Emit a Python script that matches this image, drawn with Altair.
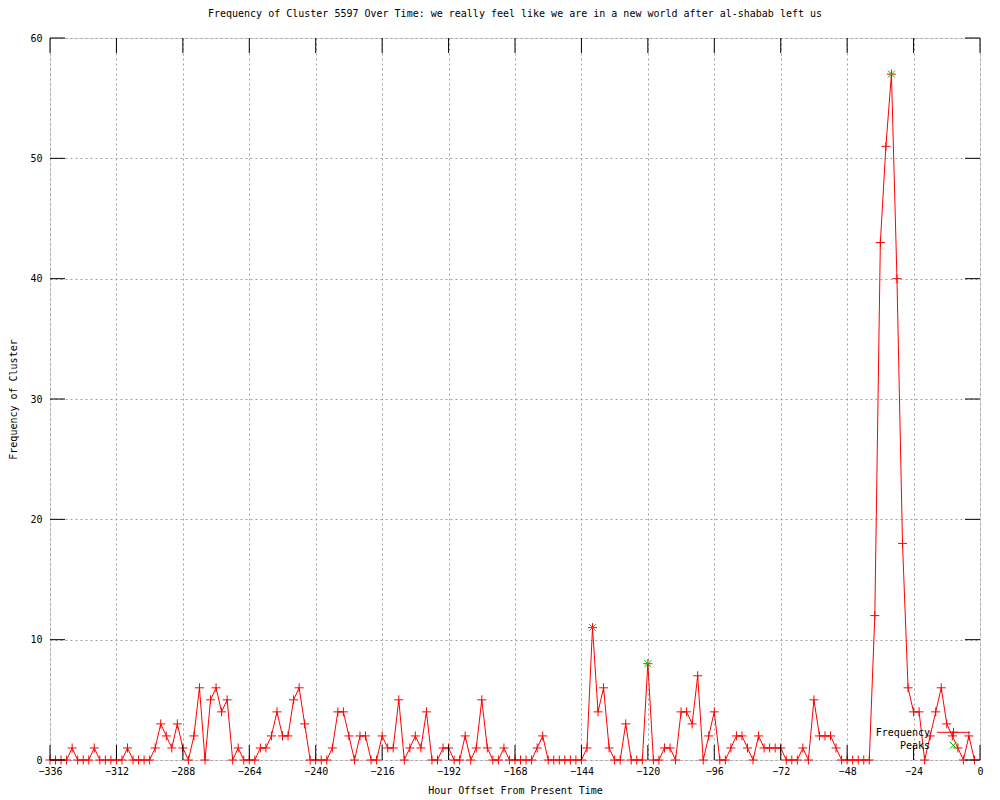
import altair as alt
import pandas as pd

# ---------------- data ----------------
hours = list(range(-336, 0, 2))
freq = [
    0, 0, 0, 0, 1, 0, 0, 0, 1, 0,      # -336 .. -318
    0, 0, 0, 0, 1, 0, 0, 0, 0, 1,      # -316 .. -298
    3, 2, 1, 3, 1, 0, 2, 6, 0, 5,      # -296 .. -278
    6, 4, 5, 0, 1, 0, 0, 0, 1, 1,      # -276 .. -258
    2, 4, 2, 2, 5, 6, 3, 0, 0, 0,      # -256 .. -238
    0, 1, 4, 4, 2, 0, 2, 2, 0, 0,      # -236 .. -218
    2, 1, 1, 5, 0, 1, 2, 1, 4, 0,      # -216 .. -198
    0, 1, 1, 0, 0, 2, 0, 1, 5, 1,      # -196 .. -178
    0, 0, 1, 0, 0, 0, 0, 0, 1, 2,      # -176 .. -158
    0, 0, 0, 0, 0, 0, 0, 1, 11, 4,     # -156 .. -138
    6, 1, 0, 0, 3, 0, 0, 0, 8, 0,      # -136 .. -118
    0, 1, 1, 0, 4, 4, 3, 7, 0, 2,      # -116 .. -98
    4, 0, 0, 1, 2, 2, 1, 0, 2, 1,      # -96 .. -78
    1, 1, 1, 0, 0, 0, 1, 0, 5, 2,      # -76 .. -58
    2, 2, 1, 0, 0, 0, 0, 0, 0, 12,     # -56 .. -38
    43, 51, 57, 40, 18, 6, 4, 4, 0, 2, # -36 .. -18
    4, 6, 3, 2, 1, 0, 2, 0,            # -16 .. -2
]
peak_hours = [-140, -120, -32]
peak_values = [11, 8, 57]
x_ticks = list(range(-336, 1, 24))
y_ticks = list(range(0, 61, 10))

title_text = "Frequency of Cluster 5597 Over Time: we really feel like we are in a new world after al-shabab left us"
x_title = "Hour Offset From Present Time"
y_title = "Frequency of Cluster"
legend_labels = ["Frequency", "Peaks"]

# ---------------- styling ----------------
W, H = 930, 722
FONT = "DejaVu Sans Mono"
FS = 10
RED = "#ff0000"
GREEN = "#00c000"
PLUS = "M-1,0L1,0M0,-1L0,1"
XSHAPE = "M-1,-1L1,1M-1,1L1,-1"
TICK = 15

df = pd.DataFrame({"hour": hours, "freq": freq})
peaks = pd.DataFrame({"hour": peak_hours, "freq": peak_values})
xt = pd.DataFrame({"hour": x_ticks})
yt = pd.DataFrame({"freq": y_ticks})
leg = pd.DataFrame({"label": legend_labels})

xscale = alt.Scale(domain=[-336, 0], nice=False, zero=False)
yscale = alt.Scale(domain=[0, 60], nice=False, zero=False)

xaxis = alt.Axis(
    values=x_ticks, title=x_title, grid=True, gridDash=[2, 3], gridColor="#a0a0a0",
    gridOpacity=1, ticks=False, tickSize=0, domain=False, labelFont=FONT,
    labelFontSize=FS, labelColor="black", labelPadding=6, labelFlush=False,
    labelOverlap=False, titleFont=FONT, titleFontSize=FS, titleFontWeight="normal",
    titleColor="black", titlePadding=9,
)
yaxis = alt.Axis(
    values=y_ticks, title=y_title, grid=True, gridDash=[2, 3], gridColor="#a0a0a0",
    gridOpacity=1, ticks=False, tickSize=0, domain=False, labelFont=FONT,
    labelFontSize=FS, labelColor="black", labelPadding=8, labelFlush=False,
    titleFont=FONT, titleFontSize=FS, titleFontWeight="normal", titleColor="black",
    titlePadding=11,
)

X = alt.X("hour:Q", scale=xscale, axis=xaxis)
Y = alt.Y("freq:Q", scale=yscale, axis=yaxis)

line = alt.Chart(df).mark_line(color=RED, strokeWidth=1, interpolate="linear").encode(x=X, y=Y)
pts = alt.Chart(df).mark_point(
    shape=PLUS, size=81, color=RED, filled=False, strokeWidth=1, opacity=1
).encode(x=X, y=Y)
pk = alt.Chart(peaks).mark_point(
    shape=XSHAPE, size=49, color=GREEN, filled=False, strokeWidth=1, opacity=1
).encode(x=X, y=Y)

# inward tick marks on all four sides (gnuplot style)
tb = alt.Chart(xt).mark_rule(color="black", strokeWidth=1).encode(
    x=X, y=alt.value(H), y2=alt.value(H - TICK))
tt = alt.Chart(xt).mark_rule(color="black", strokeWidth=1).encode(
    x=X, y=alt.value(0), y2=alt.value(TICK))
tl = alt.Chart(yt).mark_rule(color="black", strokeWidth=1).encode(
    y=Y, x=alt.value(0), x2=alt.value(TICK))
tr = alt.Chart(yt).mark_rule(color="black", strokeWidth=1).encode(
    y=Y, x=alt.value(W), x2=alt.value(W - TICK))

# key (bottom right, inside)
leg_freq = alt.Chart(leg).transform_filter(alt.datum.label == "Frequency").mark_text(
    font=FONT, fontSize=FS, align="right", baseline="middle", color="black"
).encode(x=alt.value(880), y=alt.value(694.5), text="label:N")
leg_peak = alt.Chart(leg).transform_filter(alt.datum.label == "Peaks").mark_text(
    font=FONT, fontSize=FS, align="right", baseline="middle", color="black"
).encode(x=alt.value(880), y=alt.value(708), text="label:N")
leg_line = alt.Chart(leg).transform_filter(alt.datum.label == "Frequency").mark_rule(
    color=RED, strokeWidth=1
).encode(x=alt.value(887), x2=alt.value(920), y=alt.value(694.3))
leg_plus = alt.Chart(leg).transform_filter(alt.datum.label == "Frequency").mark_point(
    shape=PLUS, size=81, color=RED, filled=False, strokeWidth=1, opacity=1
).encode(x=alt.value(903.5), y=alt.value(694.3))
leg_x = alt.Chart(leg).transform_filter(alt.datum.label == "Peaks").mark_point(
    shape=XSHAPE, size=49, color=GREEN, filled=False, strokeWidth=1, opacity=1
).encode(x=alt.value(903.3), y=alt.value(707.3))

chart = alt.layer(
    line, pts, pk, tb, tt, tl, tr, leg_freq, leg_peak, leg_line, leg_plus, leg_x
).properties(
    width=W, height=H,
    title=alt.TitleParams(title_text, font=FONT, fontSize=FS, fontWeight="normal",
                          color="black", anchor="middle", offset=14),
    autosize=alt.AutoSizeParams(type="none"),
    padding={"left": 42, "top": 30, "right": 12, "bottom": 40},
).configure_view(
    stroke="black", strokeWidth=1
).configure(background="white")

chart.save("out.html", embed_options={"renderer": "svg", "actions": False})
